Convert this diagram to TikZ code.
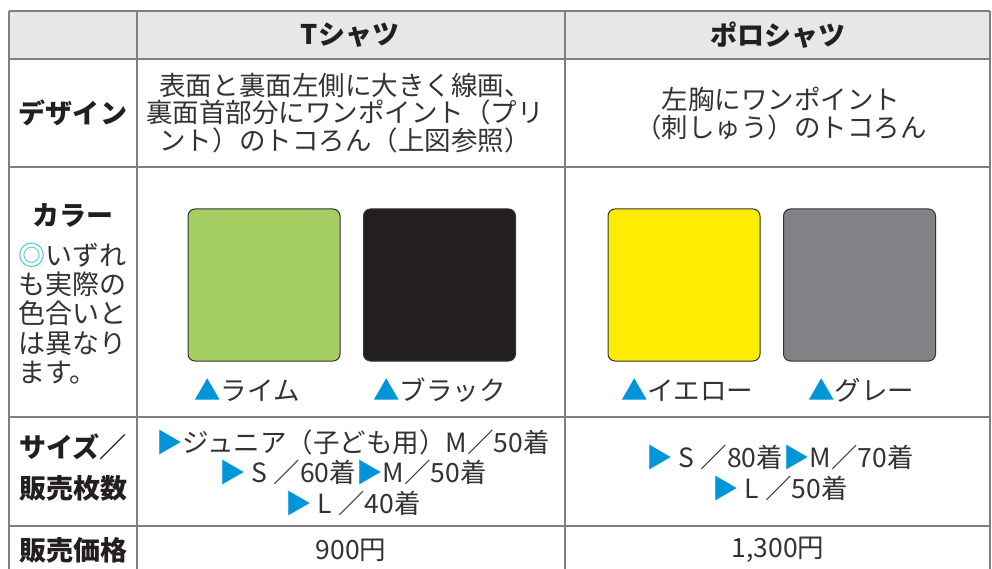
\documentclass[tikz,border=0pt]{standalone}
\usepackage{fontspec}
\setmainfont{Noto Sans CJK JP}
\definecolor{grid}{HTML}{7F7F7F}
\definecolor{headfill}{HTML}{E6E7E8}
\definecolor{txt}{HTML}{333333}
\definecolor{btxt}{HTML}{231F20}
\definecolor{tri}{HTML}{0095D9}
\definecolor{ring}{HTML}{3FB4EA}
\definecolor{lime}{HTML}{A4CE61}
\definecolor{blk}{HTML}{231F20}
\definecolor{yel}{HTML}{FFED00}
\definecolor{gry}{HTML}{808285}
\begin{document}
\begin{tikzpicture}[x=1bp,y=-1bp,
  gridline/.style={draw=grid,line width=1.4bp},
  body/.style={inner sep=0pt,text=txt,font={\fontsize{26.5bp}{27.5bp}\selectfont},align=center},
  bodywide/.style={body,font={\fontsize{26.5bp}{30.5bp}\selectfont}},
  head/.style={inner sep=0pt,text=btxt,font={\fontsize{27bp}{30bp}\selectfont\bfseries}},
  swatch/.style={draw=txt,line width=1bp,rounded corners=7bp,minimum width=152bp,minimum height=152bp,inner sep=0pt},
  clabel/.style={inner sep=0pt,anchor=west,text=txt,font={\fontsize{26.5bp}{30bp}\selectfont}}]
\useasboundingbox (0,0) rectangle (992,569);
% header band
\fill[headfill] (9,11) rectangle (990,59);
% grid
\draw[gridline] (9,11) -- (990,11);
\draw[gridline] (9,59) -- (990,59);
\draw[gridline] (9,167) -- (990,167);
\draw[gridline] (9,417) -- (990,417);
\draw[gridline] (9,526) -- (990,526);
\draw[gridline] (9,11) -- (9,569);
\draw[gridline] (137,11) -- (137,569);
\draw[gridline] (565,11) -- (565,569);
\draw[gridline] (990,11) -- (990,569);
% header row
\node[head] (hT) at (350,35) {Tシャツ};
\node[head] (hP) at (778,35) {ポロシャツ};
% design row
\node[head] (dL) at (73,113) {デザイン};
\node[body] (dT) at (345,113) {表面と裏面左側に大きく線画、\\裏面首部分にワンポイント（プリ\\ント）のトコろん（上図参照）};
\node[body] (dP) at (781,113.5) {左胸にワンポイント\\（刺しゅう）のトコろん};
% color row
\node[head] (cL) at (73,215) {カラー};
\node[inner sep=0pt,anchor=west,text=txt,align=left,font={\fontsize{27bp}{29.3bp}\selectfont}] (cN) at (18,313.5)
  {\textcolor{ring}{◎}いずれ\\も実際の\\色合いと\\は異なり\\ます。};
\node[swatch,fill=lime] (sw1) at (264,285) {};
\node[swatch,fill=blk] (sw2) at (439.5,285) {};
\node[swatch,fill=yel] (sw3) at (684,285) {};
\node[swatch,fill=gry] (sw4) at (859.5,285) {};
\node[clabel] (l1) at (194,390) {\textcolor{tri}{▲}ライム};
\node[clabel] (l2) at (373,390) {\textcolor{tri}{▲}ブラック};
\node[clabel] (l3) at (621,390) {\textcolor{tri}{▲}イエロー};
\node[clabel] (l4) at (808,390) {\textcolor{tri}{▲}グレー};
% size row
\node[head,anchor=west,align=left,font={\fontsize{27bp}{41bp}\selectfont\bfseries}] (zL) at (19,467.5) {サイズ／\\販売枚数};
\node[bodywide] (zT) at (353,472.5) {\textcolor{tri}{▶}ジュニア（子ども用）M／50着\\\textcolor{tri}{▶} S ／60着\textcolor{tri}{▶}M／50着\\\textcolor{tri}{▶} L ／40着};
\node[bodywide] (zP) at (780,473) {\textcolor{tri}{▶} S ／80着\textcolor{tri}{▶}M／70着\\\textcolor{tri}{▶} L ／50着};
% price row
\node[head,anchor=west] (pL) at (19,550) {販売価格};
\node[body] (pT) at (351,550) {900円};
\node[body] (pP) at (778,550) {1,300円};
\end{tikzpicture}
\end{document}
